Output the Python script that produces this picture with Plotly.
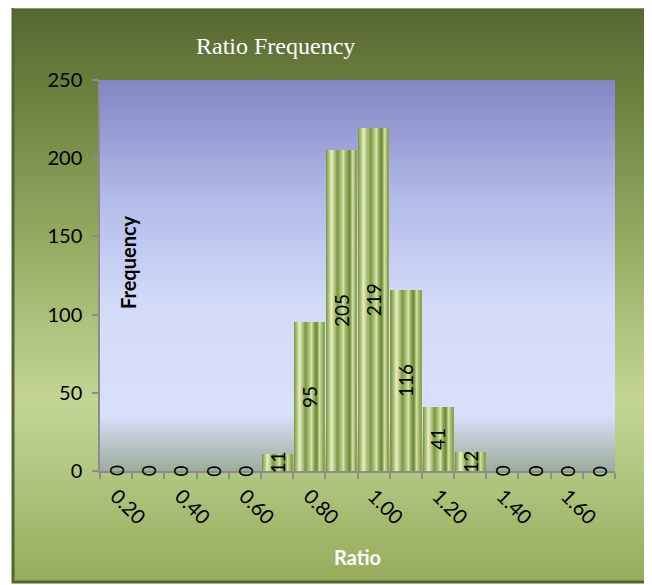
import plotly.graph_objects as go

# Data
ratio_bins = [0.20, 0.30, 0.40, 0.50, 0.60, 0.70, 0.80, 0.90,
              1.00, 1.10, 1.20, 1.30, 1.40, 1.50, 1.60, 1.70]
frequency = [0, 0, 0, 0, 0, 11, 95, 205, 219, 116, 41, 12, 0, 0, 0, 0]
tick_vals = [0.20, 0.40, 0.60, 0.80, 1.00, 1.20, 1.40, 1.60]
tick_text = ["0.20", "0.40", "0.60", "0.80", "1.00", "1.20", "1.40", "1.60"]

# the page body has an 8px margin, so the figure sits 8px in from the window corner
BODY = 8
W, H = 652 - BODY, 585 - BODY
PLOT_L, PLOT_R, PLOT_T, PLOT_B = 100, 615, 80, 471   # window pixels
FONT = "Lato"
AXIS_GREY = "#8c8c8c"

# Colour stops (window pixel y, colour) for the two background gradients
FRAME_STOPS = [(6, "#56672f"), (100, "#6d8240"), (250, "#98ad64"),
               (400, "#c4d596"), (470, "#b2c781"), (583, "#95ab5b")]
PLOT_STOPS = [(80, "#8286c3"), (200, "#b3bbe9"), (300, "#d2daf8"),
              (415, "#d8e0fb"), (440, "#bdc8d0"), (471, "#9cac9e")]

# Horizontal "cylinder" shading of each bar: (fraction of bar width, colour)
BAR_SHADE = [(0.00, "#7a9342"), (0.08, "#a6bd6c"), (0.18, "#e6efc8"),
             (0.28, "#b6ca82"), (0.38, "#7c9744"), (0.48, "#a2ba69"),
             (0.58, "#d6e4ac"), (0.68, "#88a04f"), (0.76, "#6c8837"),
             (0.85, "#cfdf9f"), (0.93, "#a6bc6d"), (1.00, "#849c4b")]
BAR_WIDTH = 0.095
N_STRIPES = 30


def px_x(px):
    return (px - PLOT_L) / (PLOT_R - PLOT_L)


def px_y(py):
    return (PLOT_B - py) / (PLOT_B - PLOT_T)


def hex_to_rgb(h):
    h = h.lstrip("#")
    return tuple(int(h[i:i + 2], 16) for i in (0, 2, 4))


def color_at(stops, y):
    for (y0, c0), (y1, c1) in zip(stops, stops[1:]):
        if y0 <= y <= y1:
            t = (y - y0) / (y1 - y0) if y1 > y0 else 0
            a, b = hex_to_rgb(c0), hex_to_rgb(c1)
            return "rgb(%d,%d,%d)" % tuple(round(a[i] + (b[i] - a[i]) * t) for i in range(3))
    return stops[-1][1]


def add_vgradient(fig, x0, x1, y0, y1, stops, step=2):
    y = y0
    while y < y1:
        fig.add_shape(type="rect", xref="paper", yref="paper",
                      x0=px_x(x0), x1=px_x(x1),
                      y0=px_y(y), y1=px_y(min(y + step + 1, y1)),
                      fillcolor=color_at(stops, y + step / 2),
                      line_width=0, layer="below")
        y += step


fig = go.Figure()

# each bar is built from narrow overlapping slices to fake the cylinder shading
for i in range(N_STRIPES):
    s = i / N_STRIPES
    w = min(2.0 / N_STRIPES, 1 - s) * BAR_WIDTH
    fig.add_trace(go.Bar(
        x=ratio_bins, y=frequency,
        width=w,
        offset=-BAR_WIDTH / 2 + s * BAR_WIDTH,
        marker=dict(color=color_at(BAR_SHADE, s + 0.5 / N_STRIPES), line_width=0),
        hoverinfo="skip", showlegend=False,
    ))

# background frame and plot area gradients
add_vgradient(fig, 12, 648, 6, 583, FRAME_STOPS)
fig.add_shape(type="rect", xref="paper", yref="paper",
              x0=px_x(13), x1=px_x(647), y0=px_y(7), y1=px_y(582),
              line=dict(color="#55652f", width=3), layer="below")
fig.add_shape(type="line", xref="paper", yref="paper",
              x0=px_x(14), x1=px_x(646), y0=px_y(8), y1=px_y(8),
              line=dict(color="#a3ab8e", width=1.5), layer="below")
add_vgradient(fig, PLOT_L, PLOT_R, PLOT_T, PLOT_B, PLOT_STOPS)

# value labels, rotated, centred on each bar
for x, v in zip(ratio_bins, frequency):
    fig.add_annotation(x=x, y=v / 2, text=str(v), textangle=-90,
                       showarrow=False, font=dict(family=FONT, size=19, color="black"))

boundaries = [round(b - 0.05, 2) for b in ratio_bins] + [round(ratio_bins[-1] + 0.05, 2)]

fig.add_annotation(text="Ratio Frequency", xref="paper", yref="paper",
                   x=px_x(275), y=px_y(46), xanchor="center", yanchor="middle",
                   showarrow=False,
                   font=dict(family="Liberation Serif", size=24, color="white"))
fig.add_annotation(text="<b>Frequency</b>", xref="paper", yref="paper",
                   x=px_x(128), y=px_y(262), xanchor="center", yanchor="middle",
                   textangle=-90, showarrow=False,
                   font=dict(family=FONT, size=20, color="black"))
fig.add_annotation(text="<b>Ratio</b>", xref="paper", yref="paper",
                   x=px_x(357), y=px_y(557), xanchor="center", yanchor="middle",
                   showarrow=False,
                   font=dict(family=FONT, size=20, color="white"))

fig.update_layout(
    width=W, height=H,
    barmode="overlay",
    bargap=0,
    paper_bgcolor="white",
    plot_bgcolor="rgba(0,0,0,0)",
    margin=dict(l=PLOT_L - BODY, r=W + BODY - PLOT_R,
                t=PLOT_T - BODY, b=H + BODY - PLOT_B, pad=0),
    showlegend=False,
    xaxis=dict(
        range=[0.15, 1.75],
        tickmode="array", tickvals=tick_vals, ticktext=tick_text,
        tickangle=45, ticks="", ticklabelstandoff=4,
        tickfont=dict(family=FONT, size=20, color="black"),
        showgrid=False, zeroline=False,
        showline=True, linecolor=AXIS_GREY, linewidth=1.5,
        minor=dict(tickmode="array", tickvals=boundaries, ticks="outside",
                   ticklen=6, tickcolor=AXIS_GREY, tickwidth=1.5, showgrid=False),
    ),
    yaxis=dict(
        range=[0, 250], dtick=50,
        ticks="outside", ticklen=6, tickcolor=AXIS_GREY, tickwidth=1.5,
        ticklabelstandoff=6,
        tickfont=dict(family=FONT, size=20, color="black"),
        showgrid=False, zeroline=False,
        showline=True, linecolor=AXIS_GREY, linewidth=1.5,
    ),
)

fig.write_html("out.html")
